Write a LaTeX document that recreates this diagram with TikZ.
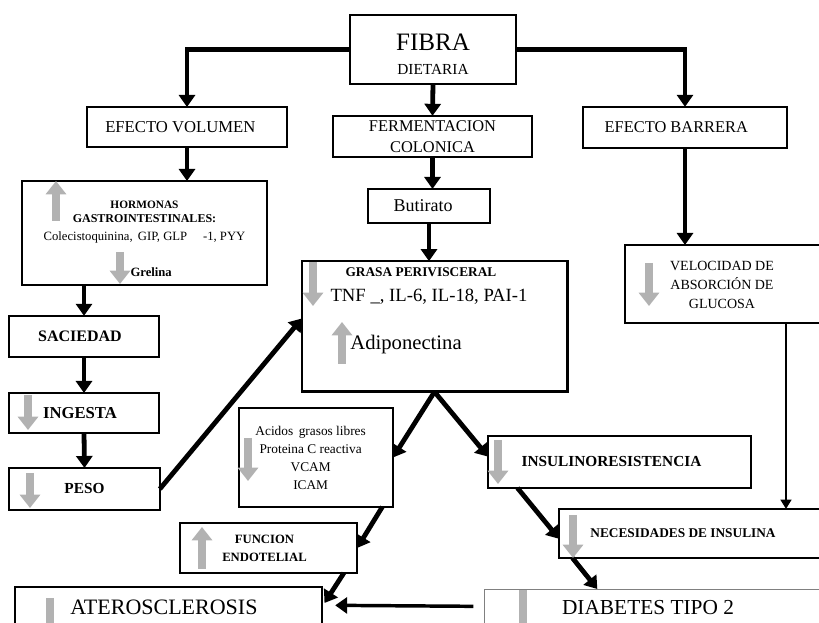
\documentclass[tikz,border=0pt]{standalone}
\usepackage{fontspec}
\setmainfont{Liberation Serif}
\usetikzlibrary{arrows.meta}
\usetikzlibrary{positioning}
\definecolor{arrowgray}{RGB}{178,178,178}

\tikzset{
  box/.style={draw,line width=1.8pt,inner sep=0pt,outer sep=0pt,align=center},
  flow/.style={->,>={Triangle[width=12pt,length=9pt]},line width=3.6pt},
  garrow/.style={-{Triangle[width=15pt,length=10pt]},draw=arrowgray,line width=6.5pt},
  txt/.style={inner sep=0pt,align=center}
}

\begin{document}
\begin{tikzpicture}[x=0.75pt,y=-0.75pt]
        \useasboundingbox (0,0) rectangle (819,623);

        % boxes
        \node[box,minimum width=124.5pt,minimum height=51.75pt,font=\fontsize{18.8}{18}\selectfont] (fibra) at (433,49.5)
          {\rule{0pt}{19pt}FIBRA\\{\fontsize{11.5}{13}\selectfont DIETARIA}};
        \node[box,minimum width=150pt,minimum height=30pt,font=\fontsize{12.5}{14}\selectfont] (vol) at (187,127)
          {\hspace*{-10pt}EFECTO VOLUMEN};
        \node[box,minimum width=149pt,minimum height=31pt,font=\fontsize{12.3}{15.5}\selectfont] (ferm) at (432.5,136.5)
          {FERMENTACION\\COLONICA};
        \node[box,minimum width=153pt,minimum height=31pt,font=\fontsize{12.3}{14}\selectfont] (barr) at (685,127.5)
          {\hspace*{-13pt}EFECTO BARRERA};
        \node[box,minimum width=184pt,minimum height=78pt,font=\fontsize{8.5}{10.5}\selectfont] (horm) at (144.5,233)
          {\rule{0pt}{14pt}\bfseries HORMONAS\\
           {\fontsize{9}{10}\selectfont\bfseries GASTROINTESTINALES:}\\[3pt]
           {\fontsize{9.5}{11.5}\selectfont Colecistoquinina,\, GIP, GLP\quad\ -1, PYY}\\[16.5pt]
           {\fontsize{9.5}{11.5}\selectfont\bfseries\hspace*{10pt}Grelina}};
        \node[box,minimum width=91.5pt,minimum height=25.5pt,font=\fontsize{13.5}{15}\selectfont] (but) at (429,206)
          {\hspace*{-9pt}Butirato};
        \node[box,line width=2pt,minimum width=199pt,minimum height=98pt] (grasa) at (434.5,326.5) {};
        \node[box,line width=1.5pt,minimum width=153.75pt,minimum height=58.5pt] (vel) at (727.5,284) {};
        \node[box,minimum width=112.5pt,minimum height=31pt,font=\fontsize{12}{13}\selectfont\bfseries] (sac) at (84,336.5)
          {\hspace*{-6pt}SACIEDAD};
        \node[box,minimum width=112.5pt,minimum height=30pt,font=\fontsize{12.5}{13}\selectfont\bfseries] (ing) at (84,413)
          {\hspace*{-6pt}INGESTA};
        \node[box,minimum width=113pt,minimum height=31.5pt,font=\fontsize{11.5}{13}\selectfont\bfseries] (peso) at (84.5,489)
          {PESO};
        \node[box,minimum width=115.5pt,minimum height=74pt,font=\fontsize{10}{13.5}\selectfont] (acid) at (316,457.5)
          {\hspace*{-8pt}Acidos\, grasos libres\\\hspace*{-8pt}Proteina C reactiva\\\hspace*{-8pt}VCAM\\\hspace*{-8pt}ICAM};
        \node[box,minimum width=133pt,minimum height=37.5pt,font=\fontsize{9.5}{13.5}\selectfont\bfseries] (func) at (268.5,548)
          {\hspace*{-6pt}FUNCION\\\hspace*{-6pt}ENDOTELIAL};
        \node[box,minimum width=230pt,minimum height=43.5pt] (ater) at (168.5,616) {};
        \node[box,minimum width=197pt,minimum height=39pt,font=\fontsize{11.5}{13}\selectfont\bfseries] (ins) at (619.5,462)
          {\hspace*{-12pt}INSULINORESISTENCIA};
        \node[box,minimum width=203pt,minimum height=36.75pt] (nec) at (694.5,533.5) {};
        \node[box,draw=gray,line width=0.6pt,minimum width=267pt,minimum height=42pt] (diab) at (662,617) {};

        % texts
        \node[txt,anchor=base,font=\fontsize{10}{11}\selectfont\bfseries] (grasa-t1) at (421,277) {GRASA PERIVISCERAL};
        \node[txt,anchor=base,font=\fontsize{14}{15}\selectfont] (grasa-t2) at (429,302) {TNF \_, IL-6, IL-18, PAI-1};
        \node[txt,anchor=base,font=\fontsize{15.5}{18}\selectfont] (grasa-t3) at (406,350) {Adiponectina};
        \node[txt,font=\fontsize{10.5}{14}\selectfont] (vel-t) at (722,285) {VELOCIDAD DE\\ABSORCIÓN DE\\GLUCOSA};
        \node[txt,anchor=base,font=\fontsize{16.5}{18}\selectfont] (ater-t) at (164,615) {ATEROSCLEROSIS};
        \node[txt,font=\fontsize{10}{12}\selectfont\bfseries] (nec-t) at (683,533) {NECESIDADES DE INSULINA};
        \node[txt,anchor=base,font=\fontsize{16}{18}\selectfont] (diab-t) at (648,615) {DIABETES TIPO 2};

        % connectors
        \coordinate (velout) at ([xshift=-33pt]vel.south east);
        \draw[flow] (fibra.west) -| (vol.north);
        \draw[flow] (fibra.south) -- (ferm.north);
        \draw[flow] (fibra.east) -| (barr.north);
        \draw[flow] (vol.south) -- (vol.south |- horm.north);
        \draw[flow] (ferm.south) -- (ferm.south |- but.north);
        \draw[flow,line width=2.8pt] (but.south) -- (but.south |- grasa.north);
        \draw[flow] (barr.south) -- (barr.south |- vel.north);
        \draw[flow] (sac.north |- horm.south) -- (sac.north);
        \draw[flow] (sac.south) -- (ing.north);
        \draw[flow] (ing.south) -- (peso.north);
        \draw[flow] (peso.east) -- ([yshift=6pt]grasa.west);
        \draw[flow] (grasa.south) -- (acid.east);
        \draw[flow] (grasa.south) -- ([yshift=4pt]ins.west);
        \draw[flow] ([xshift=-8pt]acid.south east) -- (func.east);
        \draw[flow] ([xshift=-10pt]func.south east) -- ([xshift=2pt,yshift=-12pt]ater.north east);
        \draw[flow,line width=2.6pt] ([xshift=-8pt,yshift=8pt]diab.west) -- ([xshift=10pt,yshift=8pt]ater.east);
        \draw[flow] ([xshift=22pt]ins.south west) -- ([yshift=-4pt]nec.west);
        \draw[->,>={Triangle[width=8pt,length=7pt]},line width=2pt] (velout) -- (velout |- nec.north);
        \draw[flow] ([xshift=10pt]nec.south west) -- ([xshift=85pt]diab.north west);

        % up / down marks
        \draw[garrow] (56,221) -- (56,181);
        \draw[garrow] (120,252) -- (120,284);
        \draw[garrow] (313,262) -- (313,306);
        \draw[garrow] (342,364) -- (342,322);
        \draw[garrow] (649,263) -- (649,306);
        \draw[garrow] (28,395) -- (28,430);
        \draw[garrow] (30,473) -- (30,508);
        \draw[garrow] (248,438) -- (248,481);
        \draw[garrow] (202,569) -- (202,527);
        \draw[garrow] (50,598) -- (50,640);
        \draw[garrow] (498,440) -- (498,484);
        \draw[garrow] (573,515) -- (573,558);
        \draw[garrow] (523,590) -- (523,640);
\end{tikzpicture}
\end{document}
